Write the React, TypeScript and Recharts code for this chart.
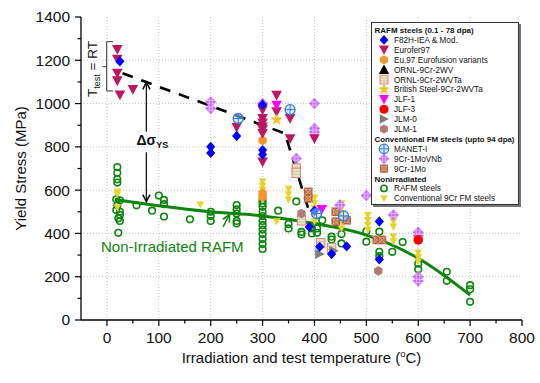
import React from 'react';
import { ComposedChart, Scatter, Line, XAxis, YAxis, CartesianGrid, ReferenceLine, Legend } from 'recharts';

const FONT = '"Liberation Sans", Arial, Helvetica, sans-serif';
const CHART_W = 540;
const CHART_H = 383;
const PLOT_LEFT = 81;
const PLOT_RIGHT = 522;
const PLOT_TOP = 17;
const PLOT_BOTTOM = 320;

// ---------- axis ticks ----------
const xTicks = [0, 50, 100, 150, 200, 250, 300, 350, 400, 450, 500, 550, 600, 650, 700, 750, 800];
const xMajorTicks = [0, 100, 200, 300, 400, 500, 600, 700, 800];
const yTicks = [0, 100, 200, 300, 400, 500, 600, 700, 800, 900, 1000, 1100, 1200, 1300, 1400];
const yMajorTicks = [0, 200, 400, 600, 800, 1000, 1200, 1400];
const xGrid = [0, 100, 200, 300, 400, 500, 600, 700];
const yGrid = [200, 400, 600, 800, 1000, 1200];
const topTicks = [1, 2, 3, 4, 5, 6, 7, 8, 9];
const rightTicks = [0, 1, 2, 3, 4, 5, 6, 7, 8, 9, 10, 11, 12];

type Pt = { x: number; y: number };

// ---------- data (temperature °C, yield stress MPa) ----------
const f82h: Pt[] = [
  { x: 25, y: 1195 }, { x: 200, y: 800 }, { x: 200, y: 772 }, { x: 250, y: 850 },
  { x: 300, y: 995 }, { x: 300, y: 785 }, { x: 300, y: 765 }, { x: 390, y: 430 },
  { x: 400, y: 505 }, { x: 410, y: 338 }, { x: 433, y: 305 }, { x: 462, y: 340 },
  { x: 525, y: 455 }, { x: 525, y: 280 },
];
const eurofer97: Pt[] = [
  { x: 20, y: 1250 }, { x: 20, y: 1205 }, { x: 20, y: 1140 }, { x: 20, y: 1105 },
  { x: 25, y: 1040 }, { x: 50, y: 1065 }, { x: 250, y: 890 }, { x: 300, y: 970 },
  { x: 300, y: 931 }, { x: 300, y: 910 }, { x: 300, y: 892 }, { x: 300, y: 880 },
  { x: 300, y: 862 }, { x: 300, y: 730 }, { x: 327, y: 1038 }, { x: 327, y: 962 },
  { x: 353, y: 931 }, { x: 353, y: 838 }, { x: 400, y: 838 },
];
const eu97Variants: Pt[] = [
  { x: 300, y: 830 }, { x: 300, y: 585 }, { x: 300, y: 568 },
];
const ornl9Cr2WV: Pt[] = [];
const ornl9Cr2WVTa: Pt[] = [
  { x: 365, y: 700 }, { x: 365, y: 680 }, { x: 375, y: 460 }, { x: 412, y: 355 }, { x: 433, y: 333 },
];
const britishSteel: Pt[] = [{ x: 327, y: 926 }];
const jlf1: Pt[] = [{ x: 327, y: 992 }, { x: 414, y: 511 }];
const jlf3: Pt[] = [{ x: 600, y: 370 }];
const jlm0: Pt[] = [{ x: 410, y: 305 }, { x: 437, y: 320 }];
const jlm1: Pt[] = [{ x: 375, y: 492 }, { x: 523, y: 227 }];
const manet1: Pt[] = [
  { x: 253, y: 931 }, { x: 353, y: 972 }, { x: 404, y: 492 }, { x: 456, y: 481 },
];
const cr9Mo1VNb: Pt[] = [
  { x: 200, y: 1007 }, { x: 200, y: 977 }, { x: 300, y: 1000 }, { x: 400, y: 1000 },
  { x: 400, y: 885 }, { x: 400, y: 869 }, { x: 365, y: 746 }, { x: 449, y: 531 },
  { x: 500, y: 575 }, { x: 552, y: 485 }, { x: 600, y: 405 }, { x: 600, y: 390 },
  { x: 600, y: 200 }, { x: 600, y: 180 },
];
const cr9Mo1: Pt[] = [
  { x: 388, y: 592 }, { x: 388, y: 562 }, { x: 441, y: 500 }, { x: 441, y: 454 },
  { x: 462, y: 461 }, { x: 520, y: 370 }, { x: 530, y: 370 },
];
const rafmNonIrr: Pt[] = [
  { x: 20, y: 707 }, { x: 20, y: 680 }, { x: 20, y: 650 }, { x: 20, y: 635 },
  { x: 18, y: 558 }, { x: 25, y: 553 }, { x: 20, y: 530 }, { x: 18, y: 508 },
  { x: 25, y: 500 }, { x: 25, y: 485 }, { x: 22, y: 470 }, { x: 25, y: 458 }, { x: 22, y: 403 },
  { x: 57, y: 530 }, { x: 87, y: 505 }, { x: 100, y: 575 }, { x: 110, y: 555 },
  { x: 110, y: 535 }, { x: 110, y: 478 }, { x: 160, y: 465 },
  { x: 200, y: 500 }, { x: 200, y: 480 }, { x: 200, y: 458 },
  { x: 250, y: 531 }, { x: 250, y: 511 }, { x: 250, y: 492 }, { x: 250, y: 458 }, { x: 250, y: 446 },
  { x: 300, y: 553 }, { x: 300, y: 538 }, { x: 300, y: 523 }, { x: 300, y: 500 },
  { x: 300, y: 480 }, { x: 300, y: 458 }, { x: 300, y: 438 }, { x: 300, y: 418 },
  { x: 300, y: 397 }, { x: 300, y: 374 }, { x: 300, y: 351 }, { x: 300, y: 328 },
  { x: 330, y: 505 }, { x: 350, y: 443 }, { x: 350, y: 423 }, { x: 365, y: 548 },
  { x: 375, y: 407 }, { x: 375, y: 395 }, { x: 395, y: 423 }, { x: 395, y: 400 },
  { x: 405, y: 423 }, { x: 405, y: 403 }, { x: 415, y: 461 }, { x: 433, y: 385 },
  { x: 433, y: 372 }, { x: 452, y: 397 }, { x: 452, y: 354 }, { x: 500, y: 410 },
  { x: 500, y: 362 }, { x: 525, y: 408 }, { x: 525, y: 315 }, { x: 525, y: 295 },
  { x: 550, y: 315 }, { x: 570, y: 360 }, { x: 600, y: 260 }, { x: 600, y: 235 },
  { x: 655, y: 223 }, { x: 655, y: 181 }, { x: 700, y: 161 }, { x: 700, y: 142 }, { x: 700, y: 84 },
];
const conv9CrNonIrr: Pt[] = [
  { x: 20, y: 592 }, { x: 20, y: 580 }, { x: 20, y: 520 }, { x: 180, y: 533 },
  { x: 300, y: 640 }, { x: 300, y: 620 }, { x: 300, y: 600 }, { x: 327, y: 455 },
  { x: 350, y: 605 }, { x: 350, y: 580 }, { x: 350, y: 555 },
  { x: 400, y: 565 }, { x: 400, y: 540 }, { x: 400, y: 515 }, { x: 400, y: 485 }, { x: 400, y: 455 },
  { x: 452, y: 538 }, { x: 452, y: 515 }, { x: 452, y: 492 }, { x: 452, y: 454 }, { x: 452, y: 423 },
  { x: 503, y: 485 }, { x: 503, y: 461 }, { x: 503, y: 438 }, { x: 503, y: 415 },
  { x: 552, y: 480 }, { x: 552, y: 455 }, { x: 552, y: 430 }, { x: 552, y: 385 }, { x: 552, y: 362 },
  { x: 600, y: 310 }, { x: 600, y: 290 }, { x: 600, y: 270 },
];
// trend lines
const irradiatedTrend: Pt[] = [
  { x: 30, y: 1140 }, { x: 343, y: 862 }, { x: 390, y: 500 },
];
const nonIrrTrend: Pt[] = [
  { x: 15, y: 557 }, { x: 100, y: 528 }, { x: 200, y: 500 }, { x: 300, y: 481 },
  { x: 400, y: 446 }, { x: 490, y: 400 }, { x: 600, y: 285 }, { x: 700, y: 115 },
];
// annotation arrows (data coordinates)
const deltaUpArrow: Pt[] = [{ x: 76, y: 870 }, { x: 76, y: 1098 }];
const deltaDownArrow: Pt[] = [{ x: 76, y: 775 }, { x: 76, y: 547 }];
const greenArrow: Pt[] = [{ x: 224, y: 430 }, { x: 236, y: 487 }];

type Kind =
  | 'f82h' | 'eurofer' | 'eu97' | 'ornlWV' | 'ornlWVTa' | 'british' | 'jlf1' | 'jlf3'
  | 'jlm0' | 'jlm1' | 'manet' | 'vnb' | 'mo' | 'rafm' | 'conv';

const legendRows: { label: string; kind?: Kind }[] = [
  { label: 'RAFM steels (0.1 - 78 dpa)' },
  { label: 'F82H-IEA & Mod.', kind: 'f82h' },
  { label: 'Eurofer97', kind: 'eurofer' },
  { label: 'Eu.97 Eurofusion variants', kind: 'eu97' },
  { label: 'ORNL-9Cr-2WV', kind: 'ornlWV' },
  { label: 'ORNL-9Cr-2WVTa', kind: 'ornlWVTa' },
  { label: 'British Steel-9Cr-2WVTa', kind: 'british' },
  { label: 'JLF-1', kind: 'jlf1' },
  { label: 'JLF-3', kind: 'jlf3' },
  { label: 'JLM-0', kind: 'jlm0' },
  { label: 'JLM-1', kind: 'jlm1' },
  { label: 'Conventional FM steels (upto 94 dpa)' },
  { label: 'MANET-I', kind: 'manet' },
  { label: '9Cr-1MoVNb', kind: 'vnb' },
  { label: '9Cr-1Mo', kind: 'mo' },
  { label: 'Nonirradiated' },
  { label: 'RAFM steels', kind: 'rafm' },
  { label: 'Conventional 9Cr FM steels', kind: 'conv' },
];

const hexPoints = (cx: number, cy: number, r: number) => {
  const pts: string[] = [];
  for (let i = 0; i < 6; i++) {
    const a = (Math.PI / 3) * i + Math.PI / 6;
    pts.push(`${cx + r * Math.cos(a)},${cy + r * Math.sin(a)}`);
  }
  return pts.join(' ');
};
const starPoints = (cx: number, cy: number, ro: number, ri: number) => {
  const pts: string[] = [];
  for (let i = 0; i < 10; i++) {
    const r = i % 2 === 0 ? ro : ri;
    const a = -Math.PI / 2 + (Math.PI / 5) * i;
    pts.push(`${cx + r * Math.cos(a)},${cy + r * Math.sin(a)}`);
  }
  return pts.join(' ');
};
const downTri = (cx: number, cy: number, hw: number) =>
  `${cx - hw},${cy - hw * 0.85} ${cx + hw},${cy - hw * 0.85} ${cx},${cy + hw}`;

function marker(kind: Kind, cx: number, cy: number, s = 1): React.ReactElement {
  switch (kind) {
    case 'f82h':
      return <polygon points={`${cx},${cy - 5.2 * s} ${cx + 4.6 * s},${cy} ${cx},${cy + 5.2 * s} ${cx - 4.6 * s},${cy}`} fill="#0000FF" />;
    case 'eurofer':
      return <polygon points={downTri(cx, cy, 5.3 * s)} fill="#BE1660" />;
    case 'eu97':
      return <polygon points={hexPoints(cx, cy, 4.8 * s)} fill="#F5962A" />;
    case 'ornlWV':
      return <polygon points={`${cx - 5.5 * s},${cy + 4.6 * s} ${cx + 5.5 * s},${cy + 4.6 * s} ${cx},${cy - 5.5 * s}`} fill="#000" />;
    case 'ornlWVTa':
      return (
        <g>
          <rect x={cx - 4.2 * s} y={cy - 4.6 * s} width={8.4 * s} height={9.2 * s} fill="#D9EEC6" stroke="#EE7A7A" strokeWidth={1} />
          <line x1={cx - 4.2 * s} x2={cx + 4.2 * s} y1={cy - 1.5 * s} y2={cy - 1.5 * s} stroke="#F2A0A0" strokeWidth={0.7} />
          <line x1={cx - 4.2 * s} x2={cx + 4.2 * s} y1={cy + 1.5 * s} y2={cy + 1.5 * s} stroke="#F2A0A0" strokeWidth={0.7} />
        </g>
      );
    case 'british':
      return <polygon points={starPoints(cx, cy, 5.6 * s, 2.3 * s)} fill="#FFC21A" stroke="#E8A200" strokeWidth={0.4} />;
    case 'jlf1':
      return <polygon points={downTri(cx, cy, 5.3 * s)} fill="#FF00FF" />;
    case 'jlf3':
      return <circle cx={cx} cy={cy} r={4.8 * s} fill="#FF0000" />;
    case 'jlm0':
      return <polygon points={`${cx - 4.5 * s},${cy - 5 * s} ${cx - 4.5 * s},${cy + 5 * s} ${cx + 5.2 * s},${cy}`} fill="#7F7F7F" />;
    case 'jlm1':
      return <polygon points={hexPoints(cx, cy, 4.8 * s)} fill="#B07A7A" />;
    case 'manet':
      return (
        <g>
          <circle cx={cx} cy={cy} r={5 * s} fill="rgba(210,225,255,0.5)" stroke="#2F7BE5" strokeWidth={1.3} />
          <line x1={cx - 5 * s} x2={cx + 5 * s} y1={cy} y2={cy} stroke="#2F7BE5" strokeWidth={1.1} />
          <line x1={cx} x2={cx} y1={cy - 5 * s} y2={cy + 5 * s} stroke="#2F7BE5" strokeWidth={1.1} />
        </g>
      );
    case 'vnb':
      return (
        <g>
          <polygon points={`${cx},${cy - 5.8 * s} ${cx + 5.6 * s},${cy} ${cx},${cy + 5.8 * s} ${cx - 5.6 * s},${cy}`} fill="#C96CF2" />
          <line x1={cx - 1.6 * s} x2={cx - 1.6 * s} y1={cy - 4 * s} y2={cy + 4 * s} stroke="#EAC8FF" strokeWidth={0.7} />
          <line x1={cx + 1.6 * s} x2={cx + 1.6 * s} y1={cy - 4 * s} y2={cy + 4 * s} stroke="#EAC8FF" strokeWidth={0.7} />
          <line x1={cx - 4 * s} x2={cx + 4 * s} y1={cy - 1.6 * s} y2={cy - 1.6 * s} stroke="#EAC8FF" strokeWidth={0.7} />
          <line x1={cx - 4 * s} x2={cx + 4 * s} y1={cy + 1.6 * s} y2={cy + 1.6 * s} stroke="#EAC8FF" strokeWidth={0.7} />
        </g>
      );
    case 'mo':
      return (
        <g>
          <rect x={cx - 4.3 * s} y={cy - 4.3 * s} width={8.6 * s} height={8.6 * s} fill="#B0603A" />
          <line x1={cx - 4.3 * s} x2={cx + 4.3 * s} y1={cy - 4.3 * s} y2={cy + 4.3 * s} stroke="#E6B898" strokeWidth={0.8} />
          <line x1={cx - 4.3 * s} x2={cx + 4.3 * s} y1={cy + 4.3 * s} y2={cy - 4.3 * s} stroke="#E6B898" strokeWidth={0.8} />
          <rect x={cx - 2.2 * s} y={cy - 2.2 * s} width={4.4 * s} height={4.4 * s} fill="none" stroke="#E6B898" strokeWidth={0.6} />
        </g>
      );
    case 'rafm':
      return <circle cx={cx} cy={cy} r={3.3 * s} fill="none" stroke="#0E850E" strokeWidth={1.6} />;
    case 'conv':
    default:
      return <polygon points={downTri(cx, cy, 3.9 * s)} fill="#E6D42C" />;
  }
}

const shapeOf = (kind: Kind) => (p: any) => marker(kind, p.cx, p.cy);

// ---------- ticks ----------
const BottomTick = (p: any) => {
  const v = p.payload.value as number;
  const major = xMajorTicks.includes(v);
  return (
    <g>
      <line x1={p.x} x2={p.x} y1={PLOT_BOTTOM} y2={PLOT_BOTTOM + (major ? 6 : 3.5)} stroke="#000" strokeWidth={1.2} />
      {major && (
        <text x={p.x} y={PLOT_BOTTOM + 22.5} textAnchor="middle" fontSize={15.5} fontFamily={FONT} fill="#111">{v}</text>
      )}
    </g>
  );
};
const LeftTick = (p: any) => {
  const v = p.payload.value as number;
  const major = yMajorTicks.includes(v);
  return (
    <g>
      <line x1={PLOT_LEFT} x2={PLOT_LEFT - (major ? 6 : 3.5)} y1={p.y} y2={p.y} stroke="#000" strokeWidth={1.2} />
      {major && (
        <text x={PLOT_LEFT - 11} y={p.y + 5.4} textAnchor="end" fontSize={15.5} fontFamily={FONT} fill="#111">{v}</text>
      )}
    </g>
  );
};
const TopTick = (p: any) => (
  <line x1={p.x} x2={p.x} y1={PLOT_TOP} y2={PLOT_TOP + 5.5} stroke="#000" strokeWidth={1.2} />
);
const RightTick = (p: any) => (
  <line x1={PLOT_RIGHT} x2={PLOT_RIGHT - 5.5} y1={p.y} y2={p.y} stroke="#000" strokeWidth={1.2} />
);

const arrowShape = (color: string, width: number) => (p: any) => {
  const { x1, y1, x2, y2 } = p;
  const ang = Math.atan2(y2 - y1, x2 - x1);
  const L = 7;
  const Wd = 3.6;
  const bx = x2 - L * Math.cos(ang);
  const by = y2 - L * Math.sin(ang);
  const px = -Math.sin(ang) * Wd;
  const py = Math.cos(ang) * Wd;
  return (
    <g>
      <line x1={x1} y1={y1} x2={x2} y2={y2} stroke={color} strokeWidth={width} />
      <polyline points={`${bx + px},${by + py} ${x2},${y2} ${bx - px},${by - py}`} fill="none" stroke={color} strokeWidth={width + 0.3} />
    </g>
  );
};

const LEG_W = 148;
const LEG_H = 183;

const LegendBox = () => (
  <div
    style={{
      width: LEG_W,
      height: LEG_H,
      border: '1px solid #333',
      background: '#fff',
      boxShadow: '2px 2px 0 #777',
      boxSizing: 'border-box',
      position: 'relative',
    }}
  >
    <svg width={LEG_W} height={LEG_H} style={{ position: 'absolute', left: -1, top: -1 }}>
      {legendRows.map((r, i) => {
        const cy = 8 + 9.9 * i;
        if (!r.kind) {
          const long = r.label.length > 30;
          return (
            <text
              key={i}
              x={3.5}
              y={cy + 3}
              fontSize={8}
              fontWeight="bold"
              fontFamily={FONT}
              fill="#111"
              {...(long ? { textLength: 140, lengthAdjust: 'spacingAndGlyphs' } : {})}
            >
              {r.label}
            </text>
          );
        }
        return (
          <g key={i}>
            {marker(r.kind, 13, cy, 0.95)}
            <text x={23} y={cy + 3} fontSize={8.2} fontFamily={FONT} fill="#111">{r.label}</text>
          </g>
        );
      })}
    </svg>
  </div>
);

export default function App() {
  return (
    <div style={{ position: 'absolute', left: 0, top: 0, width: CHART_W, height: CHART_H, background: '#fff', fontFamily: FONT }}>
      <ComposedChart
        width={CHART_W}
        height={CHART_H}
        margin={{ top: PLOT_TOP, right: CHART_W - PLOT_RIGHT, left: PLOT_LEFT - 60, bottom: CHART_H - PLOT_BOTTOM - 30 }}
      >
        <CartesianGrid stroke="#c4c4c4" strokeDasharray="1 2" verticalValues={xGrid} horizontalValues={yGrid} />
        <XAxis
          dataKey="x"
          type="number"
          domain={[-50, 800]}
          ticks={xTicks}
          interval={0}
          allowDataOverflow
          height={30}
          tickLine={false}
          tickSize={0}
          tickMargin={0}
          tick={BottomTick}
          axisLine={{ stroke: '#000', strokeWidth: 1.3 }}
        />
        <XAxis
          xAxisId="top"
          orientation="top"
          type="number"
          domain={[0.089, 9.889]}
          ticks={topTicks}
          interval={0}
          allowDataOverflow
          height={0}
          tickLine={false}
          tickSize={0}
          tick={TopTick}
          axisLine={{ stroke: '#000', strokeWidth: 1.3 }}
        />
        <YAxis
          dataKey="y"
          type="number"
          domain={[0, 1400]}
          ticks={yTicks}
          interval={0}
          allowDataOverflow
          width={60}
          tickLine={false}
          tickSize={0}
          tickMargin={0}
          tick={LeftTick}
          axisLine={{ stroke: '#000', strokeWidth: 1.3 }}
        />
        <YAxis
          yAxisId="right"
          orientation="right"
          type="number"
          domain={[-0.5, 12.5]}
          ticks={rightTicks}
          interval={0}
          allowDataOverflow
          width={0}
          tickLine={false}
          tickSize={0}
          tick={RightTick}
          axisLine={{ stroke: '#000', strokeWidth: 1.3 }}
        />

        <Scatter name="RAFM steels" data={rafmNonIrr} dataKey="y" shape={shapeOf('rafm')} isAnimationActive={false} />
        <Scatter name="Conventional 9Cr FM steels" data={conv9CrNonIrr} dataKey="y" shape={shapeOf('conv')} isAnimationActive={false} />
        <Line data={nonIrrTrend} dataKey="y" type="monotone" stroke="#0E850E" strokeWidth={3} dot={false} activeDot={false} isAnimationActive={false} />
        <Scatter name="9Cr-1Mo" data={cr9Mo1} dataKey="y" shape={shapeOf('mo')} isAnimationActive={false} />
        <Scatter name="9Cr-1MoVNb" data={cr9Mo1VNb} dataKey="y" shape={shapeOf('vnb')} isAnimationActive={false} />
        <Scatter name="ORNL-9Cr-2WVTa" data={ornl9Cr2WVTa} dataKey="y" shape={shapeOf('ornlWVTa')} isAnimationActive={false} />
        <Scatter name="ORNL-9Cr-2WV" data={ornl9Cr2WV} dataKey="y" shape={shapeOf('ornlWV')} isAnimationActive={false} />
        <Scatter name="Eu.97 Eurofusion variants" data={eu97Variants} dataKey="y" shape={shapeOf('eu97')} isAnimationActive={false} />
        <Scatter name="JLM-1" data={jlm1} dataKey="y" shape={shapeOf('jlm1')} isAnimationActive={false} />
        <Scatter name="JLM-0" data={jlm0} dataKey="y" shape={shapeOf('jlm0')} isAnimationActive={false} />
        <Scatter name="Eurofer97" data={eurofer97} dataKey="y" shape={shapeOf('eurofer')} isAnimationActive={false} />
        <Scatter name="F82H-IEA & Mod." data={f82h} dataKey="y" shape={shapeOf('f82h')} isAnimationActive={false} />
        <Scatter name="JLF-1" data={jlf1} dataKey="y" shape={shapeOf('jlf1')} isAnimationActive={false} />
        <Scatter name="JLF-3" data={jlf3} dataKey="y" shape={shapeOf('jlf3')} isAnimationActive={false} />
        <Scatter name="British Steel-9Cr-2WVTa" data={britishSteel} dataKey="y" shape={shapeOf('british')} isAnimationActive={false} />
        <Scatter name="MANET-I" data={manet1} dataKey="y" shape={shapeOf('manet')} isAnimationActive={false} />
        <Line data={irradiatedTrend} dataKey="y" type="linear" stroke="#000" strokeWidth={2.6} strokeDasharray="11 9" dot={false} activeDot={false} isAnimationActive={false} />

        <ReferenceLine segment={deltaUpArrow} shape={arrowShape('#111', 1.3)} ifOverflow="visible" />
        <ReferenceLine segment={deltaDownArrow} shape={arrowShape('#111', 1.3)} ifOverflow="visible" />
        <ReferenceLine segment={greenArrow} shape={arrowShape('#0E850E', 1.4)} ifOverflow="visible" />

        <Legend
          layout="vertical"
          align="center"
          verticalAlign="middle"
          content={() => <LegendBox />}
          wrapperStyle={{ position: 'absolute', left: 371, top: 22, width: LEG_W + 2, height: LEG_H + 2 }}
        />
      </ComposedChart>

      <svg width={CHART_W} height={CHART_H} style={{ position: 'absolute', left: 0, top: 0, pointerEvents: 'none' }}>
        <text transform="translate(25.5,168.5) rotate(-90)" textAnchor="middle" fontSize={15} fontFamily={FONT} fill="#111">
          Yield Stress (MPa)
        </text>
        <text x={301.5} y={362.5} textAnchor="middle" fontSize={15} fontFamily={FONT} fill="#111">
          Irradiation and test temperature (<tspan fontSize={9.5} dy={-5.5}>o</tspan><tspan dy={5.5}>C)</tspan>
        </text>
        <path d="M113,41.7 L106.7,41.7 L106.7,91 L113,91 M106.7,66.7 L102.5,66.7" fill="none" stroke="#333" strokeWidth={1} />
        <text transform="translate(97,69) rotate(-90)" textAnchor="middle" fontSize={13.5} fontFamily={FONT} fill="#111">
          T<tspan fontSize={9} dy={3}>test</tspan><tspan dy={-3}> = RT</tspan>
        </text>
        <text x={136.5} y={145} fontSize={14} fontWeight="bold" fontFamily={FONT} fill="#111">
          Δσ<tspan fontSize={9} dy={3}>YS</tspan>
        </text>
        <text x={101} y={252} fontSize={15} fontFamily={FONT} fill="#0E850E">
          Non-Irradiated RAFM
        </text>
      </svg>
    </div>
  );
}
